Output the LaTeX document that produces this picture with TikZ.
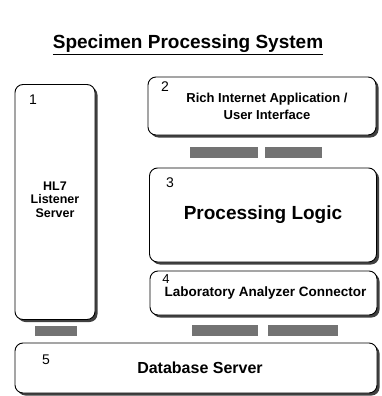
\documentclass[tikz,border=0pt]{standalone}
\usepackage{fontspec}
\setmainfont{Liberation Sans}
\usetikzlibrary{positioning, calc, shadows}

\begin{document}
\begin{tikzpicture}[x=1pt,y=-1pt,
			box/.style={draw,rounded corners=8pt,line width=0.9pt,fill=white,
				drop shadow={shadow xshift=2.5pt,shadow yshift=-2.5pt,fill=black!75,opacity=1}},
			num/.style={inner sep=0pt,font=\fontsize{14}{14}\selectfont},
			link/.style={fill=black!55,draw=none}]
			
			\useasboundingbox (0,0) rectangle (381,396);
			
			\node (title) at (188,45) {\fontsize{19}{19}\selectfont\bfseries\underline{Specimen Processing System}};
			
			\node[box,minimum width=80,minimum height=235,align=center,
				font=\fontsize{12.5}{13.5}\selectfont\bfseries] (1) at (55,202) {\\[-10pt]HL7\\Listener\\Server};
			\node[box,minimum width=228,minimum height=58,align=center,
				font=\fontsize{13}{17}\selectfont\bfseries] (2) at (262,106) {\hspace{10pt}Rich Internet Application /\\\hspace{10pt}User Interface};
			\node[box,minimum width=227,minimum height=94,
				font=\fontsize{19}{19}\selectfont\bfseries] (3) at (263,215) {Processing Logic};
			\node[box,minimum width=227,minimum height=44,
				font=\fontsize{13.5}{13.5}\selectfont\bfseries] (4) at (263.5,293) {\raisebox{-3pt}{\hspace{4pt}Laboratory Analyzer Connector}};
			\node[box,minimum width=362,minimum height=50,
				font=\fontsize{16}{16}\selectfont\bfseries] (5) at (196,368) {\hspace{8pt}Database Server};
			
			% numbers in the corners
			\node[num] (n1) at (33,100) {1};
			\node[num] (n2) at (165,87) {2};
			\node[num] (n3) at (170,183) {3};
			\node[num,font=\fontsize{13}{13}\selectfont] (n4) at (166,279) {4};
			\node[num] (n5) at (46,360) {5};
			
			% grey links between the boxes
			\fill[link] (190,147) rectangle (258,158);
			\fill[link] (265,147) rectangle (322,158);
			\fill[link] (192,325) rectangle (258,336);
			\fill[link] (268,325) rectangle (338,336);
			\fill[link] (35,326) rectangle (77,336);
		
		\end{tikzpicture}
\end{document}
